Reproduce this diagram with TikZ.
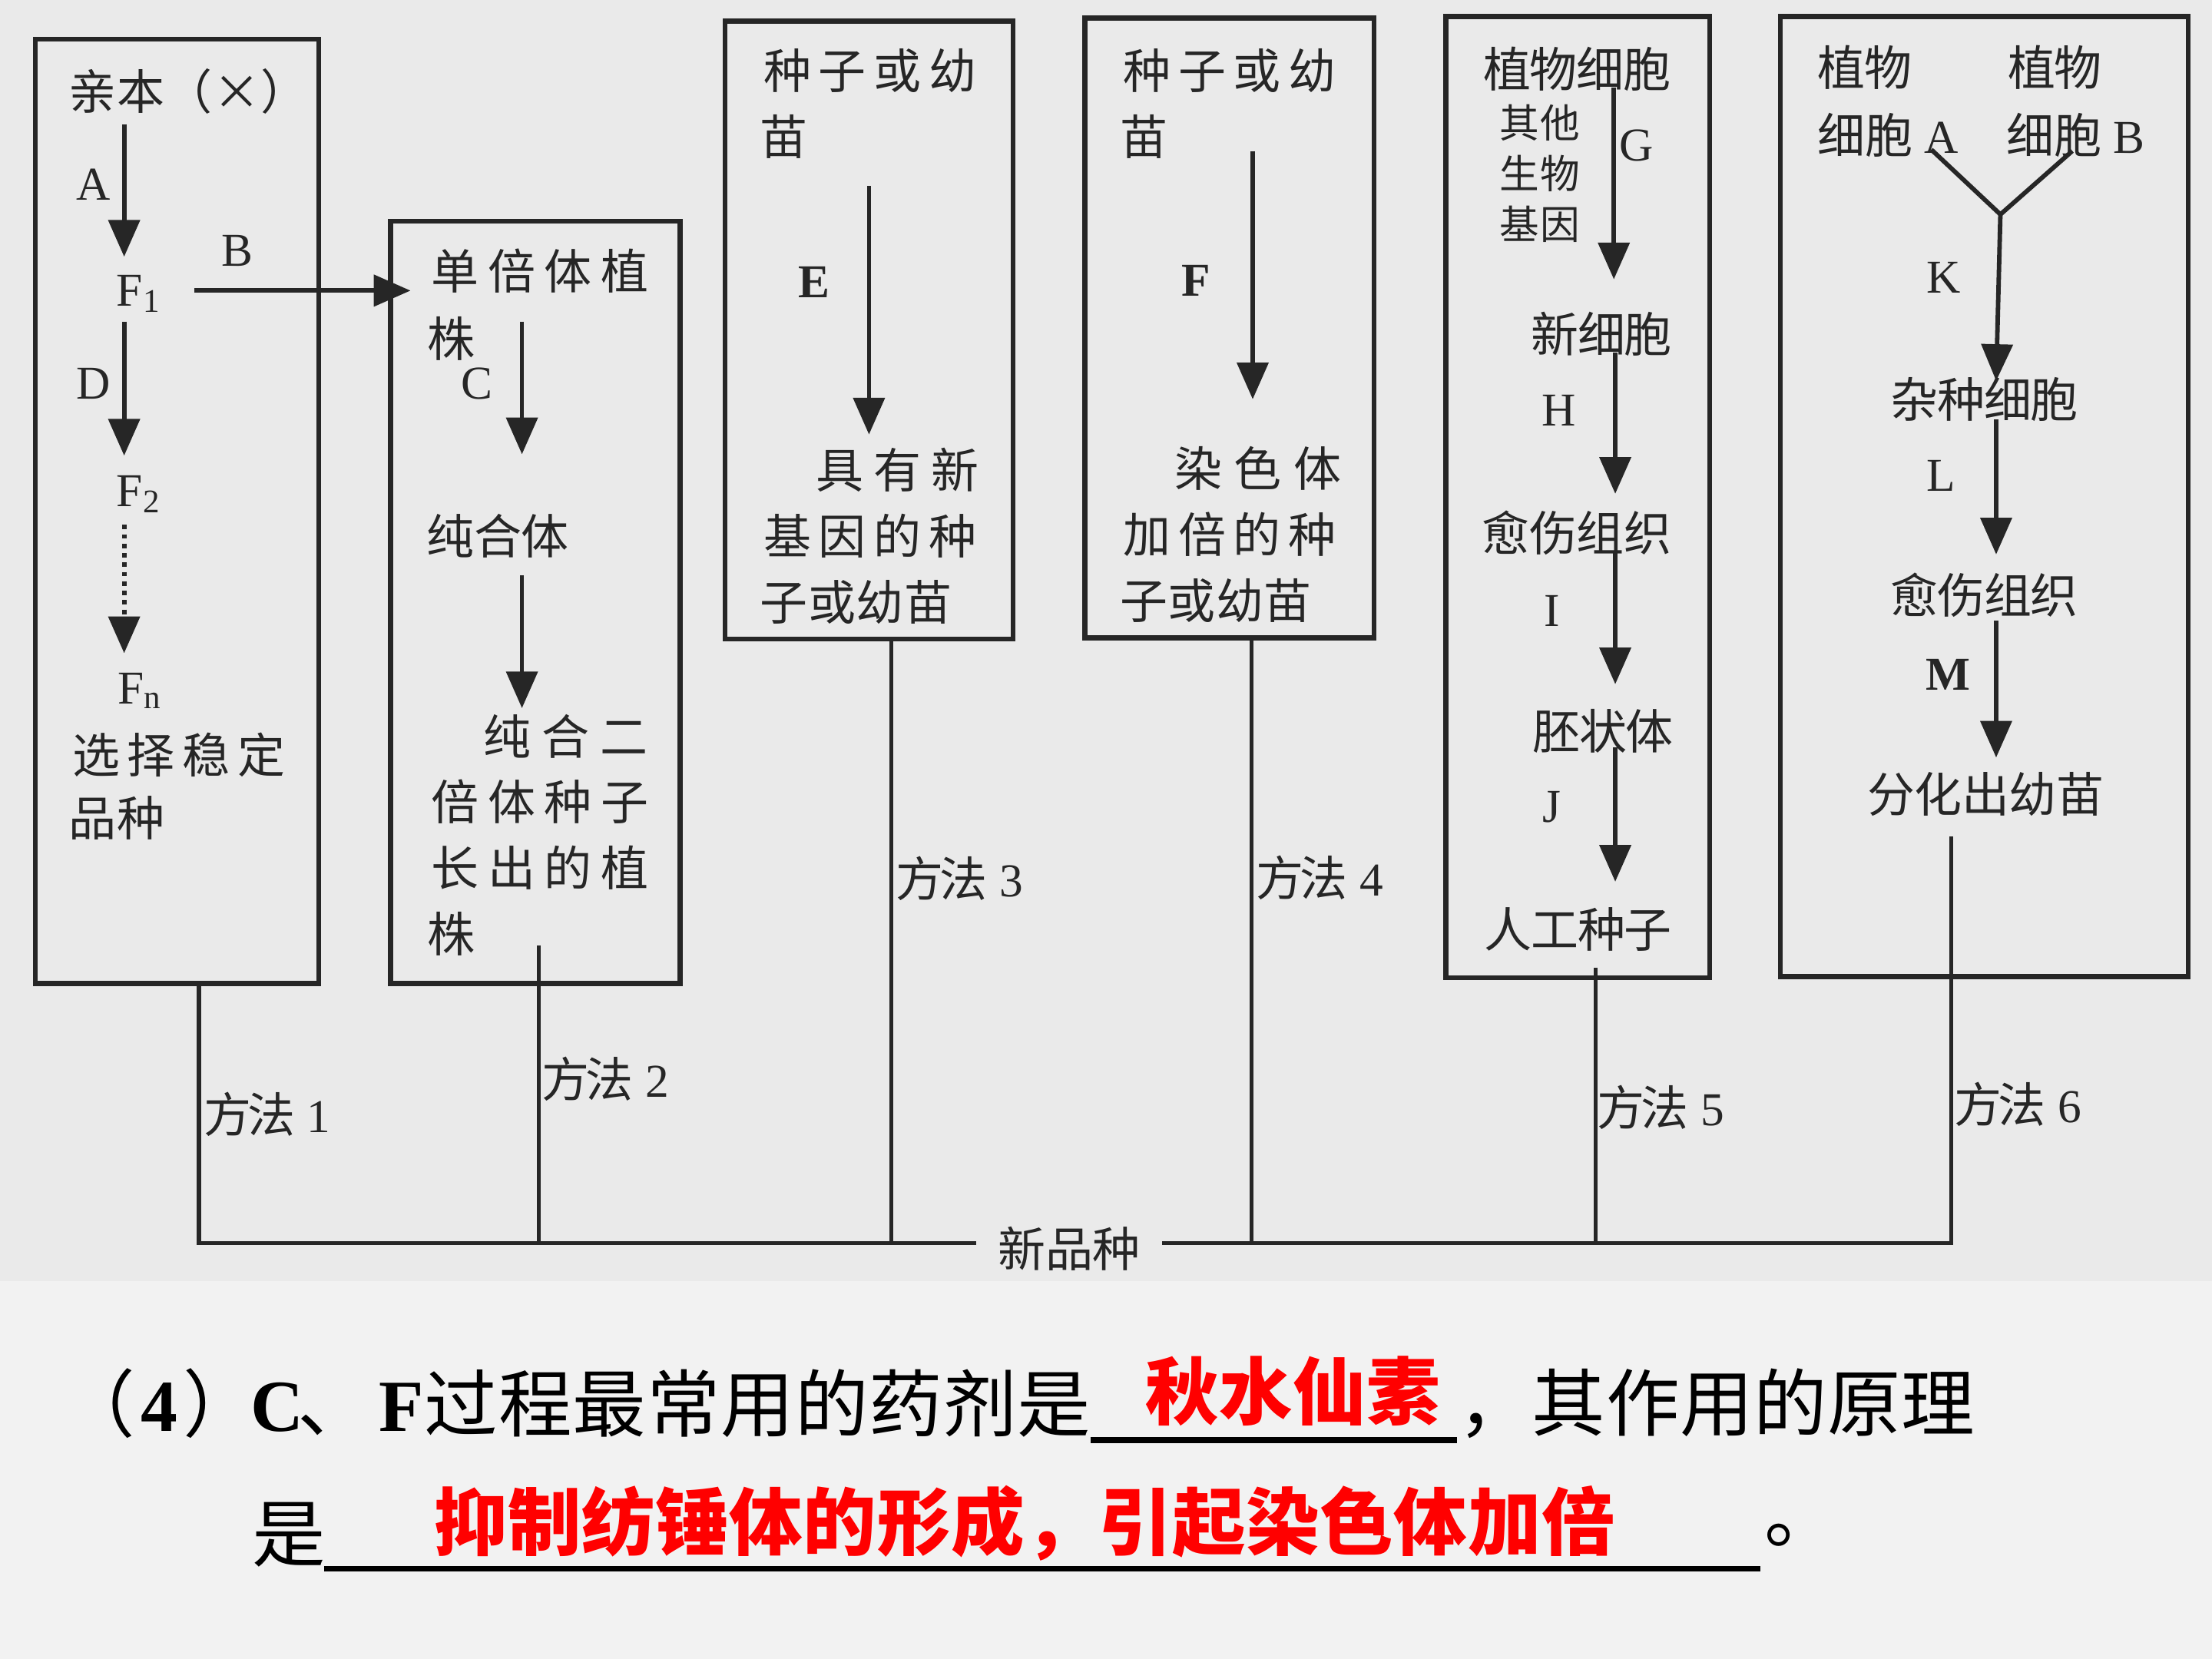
\documentclass[tikz,border=0pt]{standalone}
\usepackage{fontspec}
\setmainfont{Liberation Serif}
\newfontfamily\cjk{Noto Sans CJK SC}
\usetikzlibrary{arrows.meta}
\definecolor{scanbg}{RGB}{234,234,234}
\definecolor{slidebg}{RGB}{242,242,242}
\definecolor{ink}{RGB}{38,38,38}
\definecolor{ansred}{RGB}{255,0,0}
\newlength\chw
\makeatletter
\def\sploop#1{\ifx#1\@nil\else\makebox[\chw][c]{#1}\expandafter\sploop\fi}
\newcommand\spc[2]{\setlength\chw{#1}\sploop#2\@nil}
\makeatother
\tikzset{
  box/.style={draw=ink, line width=1pt, inner sep=0pt},
  cn/.style={font={\cjk\fontsize{9.6}{11}\selectfont}, text=ink, inner sep=0pt, anchor=west},
  cs/.style={font={\cjk\fontsize{8}{9}\selectfont}, text=ink, inner sep=0pt, anchor=west},
  lt/.style={font={\fontsize{9.5}{11}\selectfont}, text=ink, inner sep=0pt},
  ltb/.style={font={\bfseries\fontsize{9.5}{11}\selectfont}, text=ink, inner sep=0pt},
  arr/.style={draw=ink, line width=0.9pt, -{Triangle[width=2.2mm,length=2.6mm]}},
  darr/.style={arr, densely dotted},
  link/.style={draw=ink, line width=0.8pt},
  q/.style={font={\cjk\fontsize{14.8}{16}\selectfont}, text=black, inner sep=0pt},
  ans/.style={font={\cjk\bfseries\fontsize{14.8}{16}\selectfont}, text=ansred, inner sep=0pt, anchor=west},
  blank/.style={draw=black, line width=1.2pt}
}
\begin{document}
\begin{tikzpicture}[x=0.01cm,y=-0.01cm]
\useasboundingbox (0,0) rectangle (1568,1176);
\fill[slidebg] (0,0) rectangle (1568,1176);
\fill[scanbg] (0,0) rectangle (1568,908);

% boxes
\node[box, minimum width=2.01cm, minimum height=6.69cm] (b1) at (125.5,362.5) {};
\node[box, minimum width=2.05cm, minimum height=5.40cm] (b2) at (379.5,427) {};
\node[box, minimum width=2.04cm, minimum height=4.38cm] (b3) at (616,234) {};
\node[box, minimum width=2.05cm, minimum height=4.39cm] (b4) at (871.5,232.5) {};
\node[box, minimum width=1.87cm, minimum height=6.81cm] (b5) at (1118.5,352.5) {};
\node[box, minimum width=2.89cm, minimum height=6.80cm] (b6) at (1406.5,352) {};

% ---- box 1
\node[cn] (p0) at (48,65) {\spc{0.34cm}{亲本（×）}};
\node[lt] (lA) at (66,131) {A};
\node[lt, anchor=base west] (f1) at (82,217) {F\textsubscript{1}};
\node[lt] (lB) at (168,178) {B};
\node[lt] (lD) at (66,272) {D};
\node[lt, anchor=base west] (f2) at (82,359) {F\textsubscript{2}};
\node[lt, anchor=base west] (fn) at (83,499) {F\textsubscript{n}};
\node[cn] (sel1) at (48,535) {\spc{0.39cm}{选择稳定}};
\node[cn] (sel2) at (48,580) {\spc{0.34cm}{品种}};
\coordinate (a1s) at (88,88);  \coordinate (a1e) at (88,182);
\coordinate (a2s) at (88,228); \coordinate (a2e) at (88,323);
\coordinate (a3s) at (88,372); \coordinate (a3e) at (88,463);
\coordinate (bs) at (138,206); \coordinate (be) at (291,206);
\draw[arr] (a1s) -- (a1e);
\draw[arr] (a2s) -- (a2e);
\draw[darr] (a3s) -- (a3e);
\draw[arr] (bs) -- (be);

% ---- box 2
\node[cn] (h1) at (302,192) {\spc{0.40cm}{单倍体植}};
\node[cn] (h2) at (302,240) {\spc{0.34cm}{株}};
\node[lt] (lC) at (338,272) {C};
\node[cn] (pure) at (302,380) {\spc{0.335cm}{纯合体}};
\node[cn] (d1) at (338,522) {\spc{0.415cm}{纯合二}};
\node[cn] (d2) at (302,568) {\spc{0.40cm}{倍体种子}};
\node[cn] (d3) at (302,615) {\spc{0.40cm}{长出的植}};
\node[cn] (d4) at (302,662) {\spc{0.34cm}{株}};
\coordinate (c1s) at (370,228); \coordinate (c1e) at (370,322);
\coordinate (c2s) at (370,408); \coordinate (c2e) at (370,502);
\draw[arr] (c1s) -- (c1e);
\draw[arr] (c2s) -- (c2e);

% ---- box 3
\node[cn] (e1) at (538,50) {\spc{0.39cm}{种子或幼}};
\node[cn] (e2) at (538,97) {\spc{0.34cm}{苗}};
\node[ltb] (lE) at (577,200) {E};
\node[cn] (e3) at (574,333) {\spc{0.41cm}{具有新}};
\node[cn] (e4) at (538,380) {\spc{0.39cm}{基因的种}};
\node[cn] (e5) at (538,427) {\spc{0.34cm}{子或幼苗}};
\coordinate (es) at (616,132); \coordinate (ee) at (616,308);
\draw[arr] (es) -- (ee);

% ---- box 4
\node[cn] (g1) at (793,50) {\spc{0.39cm}{种子或幼}};
\node[cn] (g2) at (793,97) {\spc{0.34cm}{苗}};
\node[ltb] (lF) at (848,199) {F};
\node[cn] (g3) at (828,332) {\spc{0.42cm}{染色体}};
\node[cn] (g4) at (793,379) {\spc{0.39cm}{加倍的种}};
\node[cn] (g5) at (793,426) {\spc{0.34cm}{子或幼苗}};
\coordinate (fs) at (888,107); \coordinate (fe) at (888,283);
\draw[arr] (fs) -- (fe);

% ---- box 5
\node[cn] (k1) at (1051,49) {\spc{0.33cm}{植物细胞}};
\node[cs] (k2) at (1062,87) {\spc{0.29cm}{其他}};
\node[cs] (k3) at (1062,123) {\spc{0.29cm}{生物}};
\node[cs] (k4) at (1062,159) {\spc{0.29cm}{基因}};
\node[lt] (lG) at (1160,103) {G};
\node[cn] (k5) at (1085,237) {\spc{0.33cm}{新细胞}};
\node[lt] (lH) at (1105,291) {H};
\node[cn] (k6) at (1050,378) {\spc{0.335cm}{愈伤组织}};
\node[lt] (lI) at (1100,433) {I};
\node[cn] (k7) at (1086,518) {\spc{0.33cm}{胚状体}};
\node[lt] (lJ) at (1100,572) {J};
\node[cn] (k8) at (1052,659) {\spc{0.33cm}{人工种子}};
\coordinate (gs) at (1144,62);  \coordinate (ge) at (1144,198);
\coordinate (hs) at (1145,250); \coordinate (he) at (1145,350);
\coordinate (is) at (1145,392); \coordinate (ie) at (1145,485);
\coordinate (js) at (1145,530); \coordinate (je) at (1145,625);
\draw[arr] (gs) -- (ge);
\draw[arr] (hs) -- (he);
\draw[arr] (is) -- (ie);
\draw[arr] (js) -- (je);

% ---- box 6
\node[cn] (r1) at (1288,48) {\spc{0.33cm}{植物}};
\node[cn] (r2) at (1423,48) {\spc{0.33cm}{植物}};
\node[cn] (r3) at (1288,96) {\spc{0.335cm}{细胞}\hspace{0.085cm}{\rmfamily\fontsize{9.5}{11}\selectfont A}};
\node[cn] (r4) at (1422,96) {\spc{0.335cm}{细胞}\hspace{0.085cm}{\rmfamily\fontsize{9.5}{11}\selectfont B}};
\node[lt] (lK) at (1378,197) {K};
\node[cn] (r5) at (1340,283) {\spc{0.33cm}{杂种细胞}};
\node[lt] (lL) at (1376,337) {L};
\node[cn] (r6) at (1340,422) {\spc{0.33cm}{愈伤组织}};
\node[ltb] (lM) at (1381,478) {M};
\node[cn] (r7) at (1323,563) {\spc{0.335cm}{分化出幼苗}};
\coordinate (ya) at (1369,106); \coordinate (yb) at (1469,107);
\coordinate (yj) at (1418,152); \coordinate (ke) at (1415,270);
\coordinate (ls) at (1415,297); \coordinate (le) at (1415,393);
\coordinate (ms) at (1415,440); \coordinate (me) at (1415,537);
\draw[link, line width=0.9pt] (ya) -- (yj) -- (yb);
\draw[arr] (yj) -- (ke);
\draw[arr] (ls) -- (le);
\draw[arr] (ms) -- (me);

% ---- bottom connectors
\node[cn, anchor=center, inner xsep=0.15cm] (np) at (758,885) {\spc{0.335cm}{新品种}};
\coordinate (m1t) at (141,697);  \coordinate (m1b) at (141,881);
\coordinate (m2t) at (382,670);  \coordinate (m2b) at (382,881);
\coordinate (m3t) at (632,453);  \coordinate (m3b) at (632,881);
\coordinate (m4t) at (887,452);  \coordinate (m4b) at (887,881);
\coordinate (m5t) at (1131,686); \coordinate (m5b) at (1131,881);
\coordinate (m6t) at (1383,593); \coordinate (m6b) at (1383,881);
\draw[link] (m1t) -- (m1b) -- (np.west |- m1b);
\draw[link] (np.east |- m6b) -- (m6b) -- (m6t);
\draw[link] (m2t) -- (m2b);
\draw[link] (m3t) -- (m3b);
\draw[link] (m4t) -- (m4b);
\draw[link] (m5t) -- (m5b);
\node[cn] (w1) at (145,790) {\spc{0.31cm}{方法}\hspace{0.1cm}{\rmfamily\fontsize{9.5}{11}\selectfont 1}};
\node[cn] (w2) at (385,765) {\spc{0.31cm}{方法}\hspace{0.1cm}{\rmfamily\fontsize{9.5}{11}\selectfont 2}};
\node[cn] (w3) at (636,623) {\spc{0.31cm}{方法}\hspace{0.1cm}{\rmfamily\fontsize{9.5}{11}\selectfont 3}};
\node[cn] (w4) at (891,622) {\spc{0.31cm}{方法}\hspace{0.1cm}{\rmfamily\fontsize{9.5}{11}\selectfont 4}};
\node[cn] (w5) at (1133,785) {\spc{0.31cm}{方法}\hspace{0.1cm}{\rmfamily\fontsize{9.5}{11}\selectfont 5}};
\node[cn] (w6) at (1386,783) {\spc{0.31cm}{方法}\hspace{0.1cm}{\rmfamily\fontsize{9.5}{11}\selectfont 6}};

% ---- question text
\node[q, anchor=west] (qa) at (69,995) {\makebox[0pt]{（}\hspace{0.43cm}\makebox[0pt]{\rmfamily\bfseries 4}\hspace{0.43cm}\makebox[0pt]{）}\hspace{0.41cm}\makebox[0pt]{\rmfamily\bfseries C}\hspace{0.40cm}\makebox[0pt]{、}\hspace{0.48cm}\makebox[0pt]{\rmfamily\bfseries F}};
\node[q, anchor=west] (qb) at (300,995) {\spc{0.525cm}{过程最常用的药剂是}};
\coordinate (u1s) at (773,1021); \coordinate (u1e) at (1033,1021);
\draw[blank] (u1s) -- (u1e);
\node[ans] (ans1) at (811,986) {\spc{0.523cm}{秋水仙素}};
\node[q, anchor=west] (qc) at (1033,995) {\spc{0.523cm}{，其作用的原理}};
\node[q, anchor=west] (qd) at (178,1088) {\spc{0.52cm}{是}};
\coordinate (u2s) at (230,1112); \coordinate (u2e) at (1248,1112);
\draw[blank] (u2s) -- (u2e);
\node[ans] (ans2) at (307,1080) {\spc{0.523cm}{抑制纺锤体的形成，引起染色体加倍}};
\node[q, anchor=west] (qe) at (1250,1088) {。};
\end{tikzpicture}
\end{document}
